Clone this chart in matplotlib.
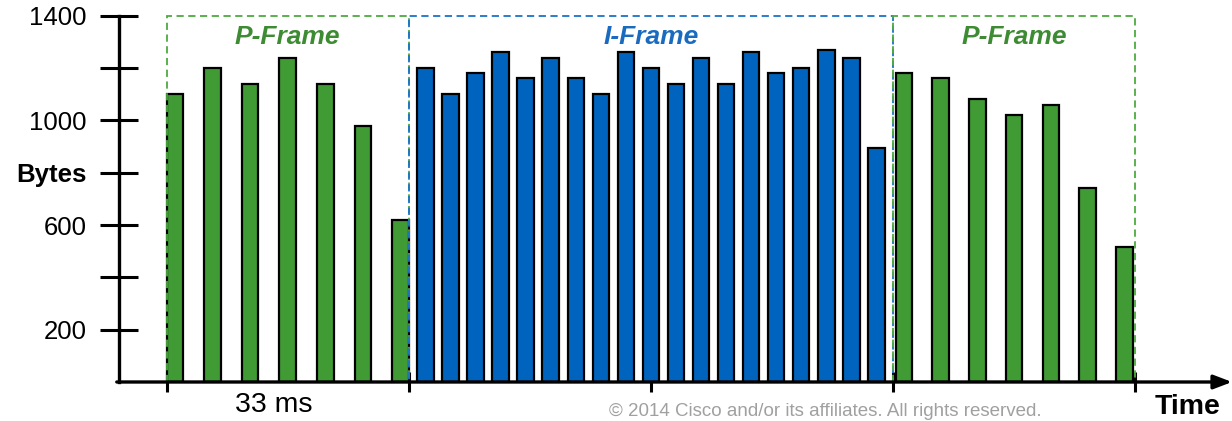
import numpy as np
import matplotlib
matplotlib.use("Agg")
import matplotlib.pyplot as plt
from matplotlib.patches import Rectangle

plt.rcParams['font.family'] = ['Liberation Sans', 'DejaVu Sans']

# packet sizes (bytes) per video frame
p_frame_1 = [1100, 1200, 1140, 1240, 1140, 980, 620]
i_frame = [1200, 1100, 1180, 1260, 1160, 1240, 1160, 1100, 1260, 1200,
           1140, 1240, 1140, 1260, 1180, 1200, 1270, 1240, 895]
p_frame_2 = [1180, 1160, 1080, 1020, 1060, 740, 515]

frame_names = ['P-Frame', 'I-Frame', 'P-Frame']
frame_bounds = [(0, 33), (33, 99), (99, 132)]   # ms
y_ticks = [200, 400, 600, 800, 1000, 1200, 1400]
y_labels = ['200', '', '600', 'Bytes', '1000', '', '1400']

green = '#409B35'
blue = '#0064BE'
green_txt = '#3D8B32'
blue_txt = '#1A6BBF'

fig = plt.figure(figsize=(12.32, 4.21), dpi=100)
ax = fig.add_axes([119 / 1232, 39 / 421, 1 - 119 / 1232, 366.3 / 421])
ax.set_xlim(-6.5, 145.2)
ax.set_ylim(0, 1400)

bar_w = 2.25
pads = [0.0, 1.15, 0.35]
series = [p_frame_1, i_frame, p_frame_2]
colors = [green, blue, green]
box_colors = ['#4DAA40', '#1A73C8', '#4DAA40']
txt_colors = [green_txt, blue_txt, green_txt]

for vals, (t0, t1), pad, c, bc, tc, name in zip(series, frame_bounds, pads, colors,
                                               box_colors, txt_colors, frame_names):
    n = len(vals)
    step = (t1 - t0 - 2 * pad - bar_w) / (n - 1)
    lefts = t0 + pad + step * np.arange(n)
    ax.bar(lefts, vals, width=bar_w, align='edge', color=c,
           edgecolor='black', linewidth=1.6, zorder=2)
    box = Rectangle((t0, 0), t1 - t0, 1400, fill=False, edgecolor=bc,
                    linestyle=(0, (4, 2.5)), linewidth=1.3, clip_on=False, zorder=3)
    ax.add_patch(box)
    ax.text((t0 + t1) / 2, 1318, name, color=tc, fontsize=19, fontweight='bold',
            fontstyle='italic', ha='center', va='center')

# axes
for s in ['top', 'right', 'bottom']:
    ax.spines[s].set_visible(False)
ax.spines['left'].set_linewidth(2.4)
ax.annotate('', xy=(1.0, 0), xytext=(-0.002, 0), xycoords='axes fraction',
            arrowprops=dict(arrowstyle='-|>,head_length=1.1,head_width=0.42',
                            color='black', lw=2.4, shrinkA=0, shrinkB=0),
            annotation_clip=False, zorder=4)

ax.set_yticks(y_ticks)
ax.set_yticklabels(y_labels, fontsize=18.5)
ax.get_yticklabels()[3].set_fontweight('bold')
ax.tick_params(axis='y', direction='inout', length=28, width=2.2, pad=9.5)

ax.set_xticks([0, 33, 66, 99, 132])
ax.set_xticklabels([])
ax.tick_params(axis='x', direction='inout', length=15, width=2.2)

fig.text(274 / 1232, 1 - 405 / 421, '33 ms', fontsize=20.5, ha='center', va='center')
fig.text(1188 / 1232, 1 - 407 / 421, 'Time', fontsize=20.5, fontweight='bold',
         ha='center', va='center')
fig.text(825 / 1232, 0.002,
         '\u00a9 2014 Cisco and/or its affiliates. All rights reserved.',
         fontsize=13.5, color='#A0A0A0', ha='center', va='bottom')

fig.savefig('out.png', dpi=100)
